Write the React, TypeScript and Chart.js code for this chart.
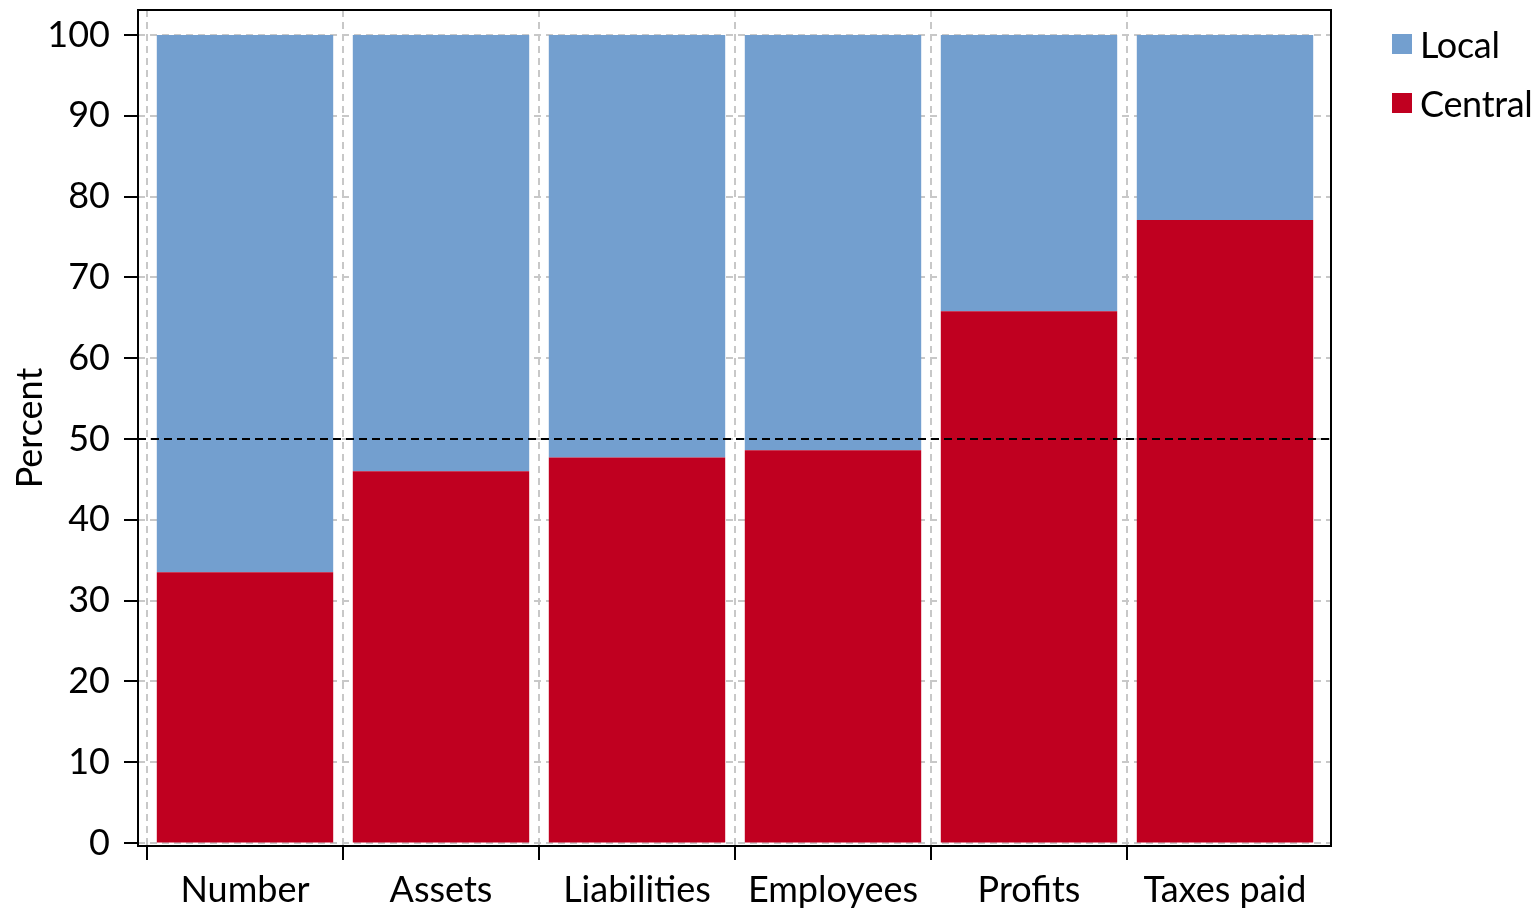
import React, { useEffect, useRef } from 'react';
import { Chart, registerables } from 'chart.js';

Chart.register(...registerables);

const categories = ['Number', 'Assets', 'Liabilities', 'Employees', 'Profits', 'Taxes paid'];
const centralValues = [33.5, 46.0, 47.7, 48.6, 65.8, 77.1];
const localValues = [66.5, 54.0, 52.3, 51.4, 34.2, 22.9];
const yTickValues = [0, 10, 20, 30, 40, 50, 60, 70, 80, 90, 100];
const referenceLineValue = 50;
const legendItems = [
  { label: 'Local', color: '#739fcf' },
  { label: 'Central', color: '#c00020' },
];

const FONT_FAMILY = 'Lato, "Open Sans", sans-serif';
const FONT_SIZE = 36;
const BLUE = '#739fcf';
const RED = '#c00020';
const GRID = '#c8c8c8';

const framePlugin = {
  id: 'frameAndRefs',
  beforeDatasetsDraw(chart: any) {
    const { ctx, chartArea, scales } = chart;
    const y = scales.y;
    const fl = chartArea.left - 9;
    const fr = chartArea.right + 8;
    ctx.save();
    ctx.strokeStyle = GRID;
    ctx.lineWidth = 2;
    ctx.setLineDash([7, 5]);
    y.ticks.forEach((t: any) => {
      const py = Math.round(y.getPixelForValue(t.value));
      ctx.beginPath();
      ctx.moveTo(fl, py);
      ctx.lineTo(fr, py);
      ctx.stroke();
    });
    ctx.restore();
  },
  afterDatasetsDraw(chart: any) {
    const { ctx, chartArea, scales } = chart;
    const y = scales.y;
    const fl = chartArea.left - 9;
    const fr = chartArea.right + 8;
    ctx.save();
    // reference line at 50
    const py50 = Math.round(y.getPixelForValue(referenceLineValue));
    ctx.strokeStyle = '#000';
    ctx.lineWidth = 2;
    ctx.setLineDash([8, 5]);
    ctx.beginPath();
    ctx.moveTo(fl, py50);
    ctx.lineTo(fr, py50);
    ctx.stroke();
    // frame
    ctx.setLineDash([]);
    ctx.lineWidth = 2;
    ctx.strokeRect(fl, chartArea.top, fr - fl, chartArea.bottom - chartArea.top);
    // y tick marks
    y.ticks.forEach((t: any) => {
      const py = Math.round(y.getPixelForValue(t.value));
      ctx.beginPath();
      ctx.moveTo(fl - 14, py);
      ctx.lineTo(fl, py);
      ctx.stroke();
    });
    ctx.restore();
  },
};

export default function App() {
  const canvasRef = useRef<HTMLCanvasElement | null>(null);

  useEffect(() => {
    if (!canvasRef.current) return;
    const font = { family: FONT_FAMILY, size: FONT_SIZE };
    const chart = new Chart(canvasRef.current, {
      type: 'bar',
      data: {
        labels: categories,
        datasets: [
          {
            label: 'Central',
            data: centralValues,
            backgroundColor: RED,
            borderWidth: 0,
            barPercentage: 0.9,
            categoryPercentage: 1.0,
          },
          {
            label: 'Local',
            data: localValues,
            backgroundColor: BLUE,
            borderWidth: 0,
            barPercentage: 0.9,
            categoryPercentage: 1.0,
          },
        ],
      },
      options: {
        animation: false,
        responsive: false,
        layout: { padding: { top: 10, right: 210, left: 0, bottom: 0 } },
        plugins: {
          legend: { display: false },
          tooltip: { enabled: false },
        },
        scales: {
          x: {
            stacked: true,
            offset: true,
            grid: {
              offset: true,
              color: (c: any) => (c.tick ? GRID : 'rgba(0,0,0,0)'),
              lineWidth: 2,
              tickColor: (c: any) => (c.tick ? '#000' : 'rgba(0,0,0,0)'),
              tickLength: 14,
              tickWidth: 2,
              tickBorderDash: [],
            },
            border: { display: false, dash: [7, 5] },
            ticks: { font, color: '#000', padding: 9, maxRotation: 0, autoSkip: false },
            afterFit: (s: any) => {
              s.height = 62;
              s.paddingLeft = 0;
              s.paddingRight = 0;
            },
          },
          y: {
            stacked: true,
            min: -0.37,
            max: 103.1,
            afterBuildTicks: (s: any) => {
              s.ticks = yTickValues.map((v) => ({ value: v }));
            },
            grid: { drawOnChartArea: false, drawTicks: false },
            border: { display: false },
            ticks: { font, color: '#000', padding: 37 },
            title: {
              display: true,
              text: 'Percent',
              font,
              color: '#000',
              padding: { top: 9, bottom: 0 },
            },
            afterFit: (s: any) => {
              s.width = 147;
              s.paddingTop = 0;
              s.paddingBottom = 0;
            },
          },
        },
      },
      plugins: [framePlugin],
    });
    return () => chart.destroy();
  }, []);

  return (
    <div
      style={{
        position: 'fixed',
        left: 0,
        top: 0,
        width: 1533,
        height: 908,
        background: '#fff',
        overflow: 'hidden',
      }}
    >
      <canvas ref={canvasRef} width={1533} height={908} style={{ width: 1533, height: 908, display: 'block' }} />
      <div style={{ position: 'absolute', left: 1392, top: 24, fontFamily: FONT_FAMILY, fontSize: FONT_SIZE, color: '#000' }}>
        {legendItems.map((it) => (
          <div key={it.label} style={{ display: 'flex', alignItems: 'center', height: 40, marginBottom: 19, whiteSpace: 'nowrap' }}>
            <span style={{ display: 'inline-block', width: 20, height: 20, background: it.color, marginRight: 8 }} />
            <span style={{ lineHeight: '40px', letterSpacing: '-0.3px' }}>{it.label}</span>
          </div>
        ))}
      </div>
    </div>
  );
}
